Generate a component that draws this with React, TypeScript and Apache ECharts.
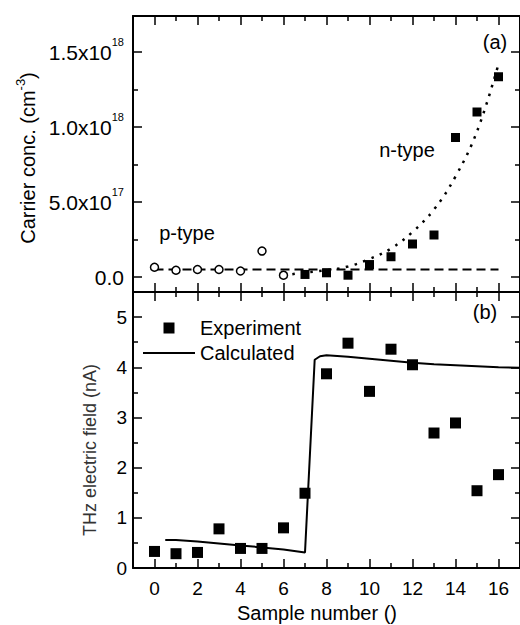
import React, { useEffect, useRef } from 'react';
import * as echarts from 'echarts';

const FONT = '"Liberation Sans", Arial, Helvetica, sans-serif';

// ---- data ----
const pTypeSample = [0, 1, 2, 3, 4, 5, 6];
const pTypeConc = [0.065e18, 0.045e18, 0.05e18, 0.05e18, 0.04e18, 0.173e18, 0.012e18];
const nTypeSample = [7, 8, 9, 10, 11, 12, 13, 14, 15, 16];
const nTypeConc = [0.017e18, 0.028e18, 0.012e18, 0.083e18, 0.135e18, 0.22e18, 0.28e18, 0.93e18, 1.1e18, 1.335e18];
const fitSample = [6, 7, 8, 9, 10, 11, 12, 13, 14, 15, 16];
const fitConc = [0.01e18, 0.03e18, 0.045e18, 0.07e18, 0.12e18, 0.19e18, 0.3e18, 0.45e18, 0.67e18, 0.97e18, 1.42e18];
const baselineSample = [0, 16];
const baselineConc = [0.05e18, 0.05e18];

const expSample = [0, 1, 2, 3, 4, 5, 6, 7, 8, 9, 10, 11, 12, 13, 14, 15, 16];
const expTHz = [0.33, 0.285, 0.31, 0.78, 0.39, 0.39, 0.8, 1.49, 3.87, 4.48, 3.52, 4.36, 4.05, 2.69, 2.89, 1.54, 1.86];
const calcSample = [0.5, 1, 2, 3, 4, 5, 6, 7, 7.45, 7.7, 8, 9, 10, 11, 12, 13, 14, 15, 16, 17];
const calcTHz = [0.56, 0.56, 0.53, 0.49, 0.45, 0.41, 0.37, 0.31, 4.15, 4.22, 4.24, 4.21, 4.17, 4.13, 4.09, 4.06, 4.04, 4.02, 4.0, 3.99];

const xMajorTicks = [0, 2, 4, 6, 8, 10, 12, 14, 16];
const xMinorTicks = [1, 3, 5, 7, 9, 11, 13, 15];
const concMajorTicks = [0, 5e17, 1e18, 1.5e18];
const concMinorTicks = [2.5e17, 7.5e17, 1.25e18];
const concLabelMantissa = ['0.0', '5.0x10', '1.0x10', '1.5x10'];
const concLabelExponent = ['', '17', '18', '18'];
const thzMajorTicks = [0, 1, 2, 3, 4, 5];
const thzMinorTicks = [0.5, 1.5, 2.5, 3.5, 4.5];

const X_MIN = -1, X_MAX = 17;
const CONC_MIN = -1e17, CONC_MAX = 1.74e18;
const THZ_MIN = 0, THZ_MAX = 5.5;

function buildOption() {
  const grids = [
    { left: 133, top: 16, width: 387, height: 276 },
    { left: 133, top: 16, width: 387, height: 276 },
    { left: 133, top: 292, width: 387, height: 276 },
    { left: 133, top: 292, width: 387, height: 276 },
  ];

  const xAxis: any[] = [];
  const yAxis: any[] = [];
  [0, 1, 2, 3].forEach((g) => {
    const major = g % 2 === 0;
    const topPanel = g < 2;
    ['bottom', 'top'].forEach((pos) => {
      const withLabels = g === 2 && pos === 'bottom';
      xAxis.push({
        type: 'value', gridIndex: g, position: pos, min: X_MIN, max: X_MAX,
        axisLine: { show: major, onZero: false, lineStyle: { color: '#000', width: 2 } },
        axisTick: {
          show: true, inside: true, length: major ? 9 : 5,
          customValues: major ? xMajorTicks : xMinorTicks,
          lineStyle: { color: '#000', width: 1.5 },
        },
        axisLabel: withLabels
          ? { show: true, customValues: xMajorTicks, fontSize: 19, color: '#000', fontFamily: FONT, margin: 11 }
          : { show: false },
        splitLine: { show: false },
      });
    });
    ['left', 'right'].forEach((pos) => {
      const withLabels = major && pos === 'left';
      let axisLabel: any = { show: false };
      if (withLabels && topPanel) {
        axisLabel = {
          show: true, customValues: concMajorTicks, margin: 9,
          formatter: (v: number) => {
            const i = concMajorTicks.findIndex((t) => Math.abs(t - v) < 1e14);
            if (i < 0) return '';
            return concLabelExponent[i]
              ? `{m|${concLabelMantissa[i]}}{s|${concLabelExponent[i]}}`
              : `{m|${concLabelMantissa[i]}}`;
          },
          rich: {
            m: { fontSize: 21, fontFamily: FONT, color: '#000', verticalAlign: 'middle' },
            s: { fontSize: 11, fontFamily: FONT, color: '#000', verticalAlign: 'middle', padding: [0, 0, 20, 0] },
          },
        };
      } else if (withLabels) {
        axisLabel = { show: true, customValues: thzMajorTicks, fontSize: 19, color: '#000', fontFamily: FONT, margin: 6 };
      }
      yAxis.push({
        type: 'value', gridIndex: g, position: pos,
        min: topPanel ? CONC_MIN : THZ_MIN, max: topPanel ? CONC_MAX : THZ_MAX,
        axisLine: { show: major, onZero: false, lineStyle: { color: '#000', width: 2 } },
        axisTick: {
          show: true, inside: true, length: major ? 9 : 5,
          customValues: topPanel
            ? (major ? concMajorTicks : concMinorTicks)
            : (major ? thzMajorTicks : thzMinorTicks),
          lineStyle: { color: '#000', width: 1.5 },
        },
        axisLabel,
        splitLine: { show: false },
      });
    });
  });

  const zip = (xs: number[], ys: number[]) => xs.map((x, i) => [x, ys[i]]);

  const series: any[] = [
    {
      name: 'baseline', type: 'line', xAxisIndex: 0, yAxisIndex: 0,
      data: zip(baselineSample, baselineConc), symbol: 'none',
      lineStyle: { color: '#000', width: 2, type: [9, 5] }, z: 2,
    },
    {
      name: 'fit', type: 'line', xAxisIndex: 0, yAxisIndex: 0,
      data: zip(fitSample, fitConc), symbol: 'none', smooth: 0.4,
      lineStyle: { color: '#000', width: 2.5, type: [2.5, 6.5] }, z: 2,
    },
    {
      name: 'p-type', type: 'scatter', xAxisIndex: 0, yAxisIndex: 0,
      data: zip(pTypeSample, pTypeConc), symbol: 'circle', symbolSize: 8,
      itemStyle: { color: '#fff', borderColor: '#000', borderWidth: 1.5, opacity: 1 }, z: 3,
    },
    {
      name: 'n-type', type: 'scatter', xAxisIndex: 0, yAxisIndex: 0,
      data: zip(nTypeSample, nTypeConc), symbol: 'rect', symbolSize: 9,
      itemStyle: { color: '#000', opacity: 1 }, z: 3,
    },
    {
      name: 'Calculated', type: 'line', xAxisIndex: 4, yAxisIndex: 4,
      data: zip(calcSample, calcTHz), symbol: 'none',
      lineStyle: { color: '#000', width: 2 }, itemStyle: { color: '#000' }, z: 2,
    },
    {
      name: 'Experiment', type: 'scatter', xAxisIndex: 4, yAxisIndex: 4,
      data: zip(expSample, expTHz), symbol: 'rect', symbolSize: 11,
      itemStyle: { color: '#000', opacity: 1 }, z: 3,
    },
  ];

  const txt = (text: string, x: number, y: number, fontSize = 20) => ({
    type: 'text', x, y,
    style: { text, fontSize, fontFamily: FONT, fill: '#000', align: 'center', verticalAlign: 'middle' },
  });

  const graphic: any[] = [
    txt('(a)', 495, 42),
    txt('(b)', 485, 312),
    txt('n-type', 407, 150),
    txt('p-type', 187, 233),
    txt('Sample number ()', 317, 613, 20),
    {
      type: 'text', x: 90, y: 450, rotation: Math.PI / 2,
      style: { text: 'THz electric field (nA)', fontSize: 18, fontFamily: FONT, fill: '#333', align: 'center', verticalAlign: 'middle' },
    },
    {
      type: 'text', x: 28, y: 158, rotation: Math.PI / 2,
      style: {
        text: '{a|Carrier conc. (cm}{s|-3}{a|)}',
        align: 'center', verticalAlign: 'middle',
        rich: {
          a: { fontSize: 20, fontFamily: FONT, fill: '#000', color: '#000', verticalAlign: 'middle' },
          s: { fontSize: 13, fontFamily: FONT, fill: '#000', color: '#000', verticalAlign: 'middle', padding: [0, 0, 16, 0] },
        },
      },
    },
  ];

  return {
    animation: false,
    backgroundColor: '#fff',
    grid: grids,
    xAxis,
    yAxis,
    series,
    graphic,
    legend: {
      show: true,
      orient: 'vertical',
      left: 138,
      top: 313,
      itemWidth: 52,
      itemHeight: 11,
      itemGap: 5,
      textStyle: { fontSize: 20, fontFamily: FONT, color: '#000' },
      data: [
        { name: 'Experiment', icon: 'path://M0,0L10,0L10,10L0,10Z' },
        { name: 'Calculated', icon: 'path://M0,0L100,0L100,4L0,4Z' },
      ],
    },
  };
}

export default function App() {
  const ref = useRef<HTMLDivElement>(null);
  useEffect(() => {
    if (!ref.current) return;
    const chart = echarts.init(ref.current, null, { renderer: 'svg' });
    chart.setOption(buildOption() as any);
    return () => chart.dispose();
  }, []);
  return (
    <div
      ref={ref}
      style={{ position: 'absolute', left: 0, top: 0, width: 520, height: 625, background: '#fff' }}
    />
  );
}
